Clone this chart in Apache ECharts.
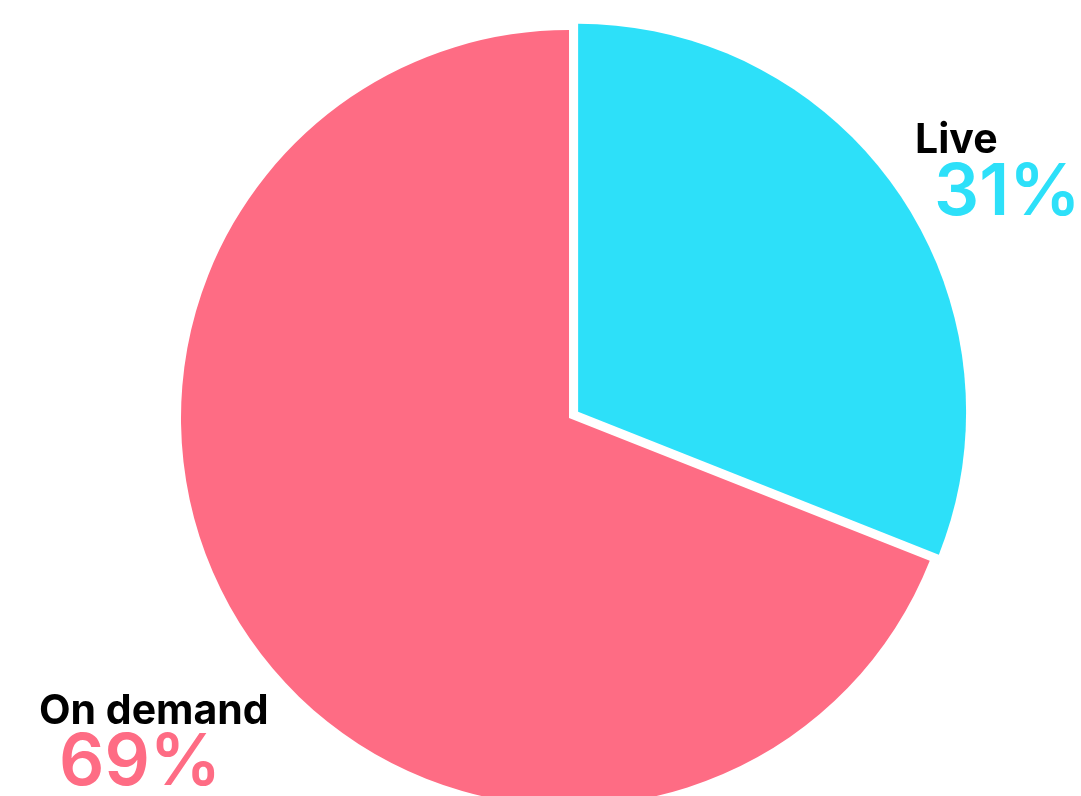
<!DOCTYPE html>
<html>
<head>
<meta charset="utf-8">
<script src="https://cdn.jsdelivr.net/npm/echarts@6/dist/echarts.min.js"></script>
<style>
html,body{margin:0;padding:0;background:#fff;}
#chart{width:1081px;height:796px;}
</style>
</head>
<body>
<div id="chart"></div>
<script>
var categories = ['Live', 'On demand'];
var values = [31, 69];
var colors = ['#2DE0F9', '#FE6C84'];
var percentLabels = ['31%', '69%'];

// label anchor positions (left x, top y)
var namePos = [[915, 120], [39, 691]];
var pctPos = [[934, 158], [59, 728]];

var graphics = [];
categories.forEach(function (c, i) {
  graphics.push({
    type: 'text', x: namePos[i][0], y: namePos[i][1], silent: true,
    style: {text: c, fill: '#000000', fontFamily: 'Inter', fontWeight: 'bold', fontSize: 41, verticalAlign: 'top', align: 'left'}
  });
  graphics.push({
    type: 'text', x: pctPos[i][0], y: pctPos[i][1], silent: true,
    style: {text: percentLabels[i], fill: colors[i], fontFamily: 'Inter', fontWeight: 600, fontSize: 71, verticalAlign: 'top', align: 'left'}
  });
});

var chart = echarts.init(document.getElementById('chart'), null, {renderer: 'canvas'});
chart.setOption({
  animation: false,
  backgroundColor: '#ffffff',
  graphic: graphics,
  series: [{
    type: 'pie',
    center: [569, 418],
    radius: [0, 388],
    startAngle: 90,
    clockwise: true,
    selectedMode: 'single',
    selectedOffset: 11,
    silent: true,
    emphasis: {disabled: true},
    label: {show: false},
    labelLine: {show: false},
    data: categories.map(function (c, i) {
      return {name: c, value: values[i], selected: i === 0, itemStyle: {color: colors[i]}};
    })
  }]
});
</script>
</body>
</html>
